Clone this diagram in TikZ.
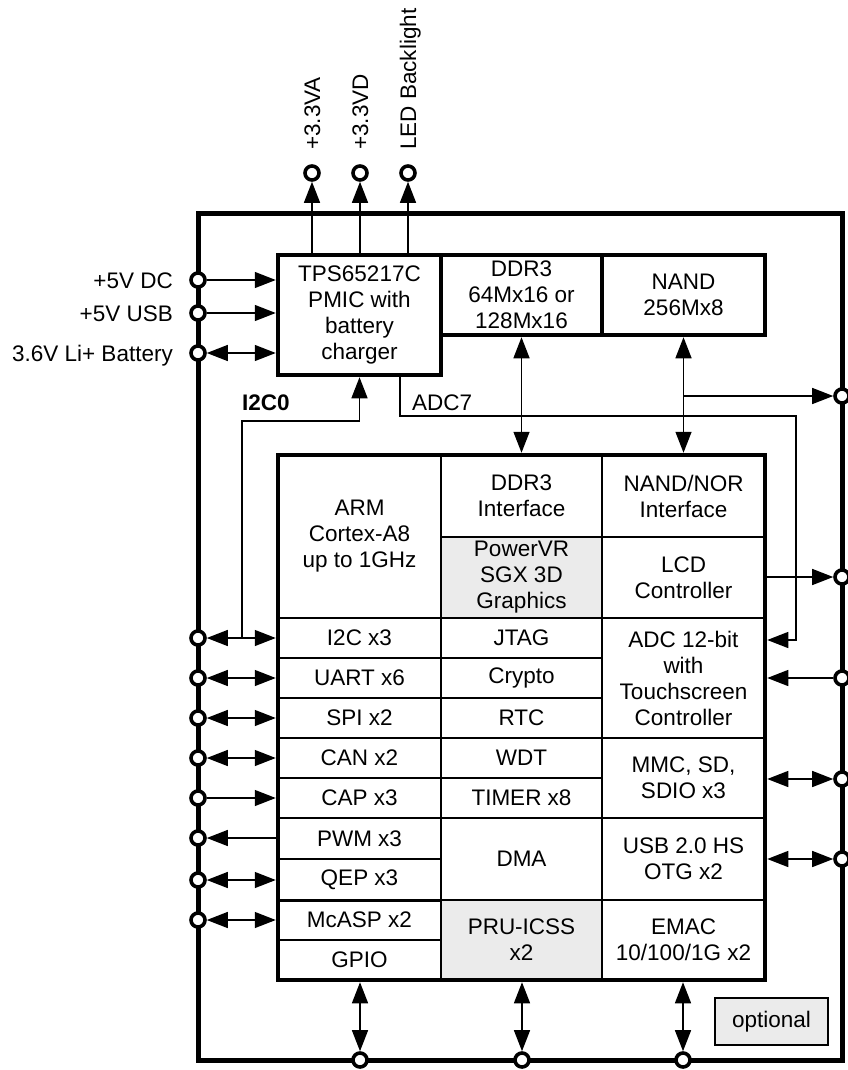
\documentclass[tikz,border=0pt]{standalone}
\usepackage{fontspec}
\setmainfont{Liberation Sans}
\usetikzlibrary{arrows.meta,calc}
\tikzset{tri/.tip={Triangle[length=21pt,width=16pt]}}
\begin{document}
\begin{tikzpicture}[x=1pt,y=-1pt,
  every node/.style={font=\fontsize{22.5}{26}\selectfont, text=black},
  cell/.style={draw, line width=1.5pt, inner sep=0pt, align=center},
  shadecell/.style={cell, fill=black!8},
  chip/.style={draw, line width=4.5pt, inner sep=0pt, align=center},
  board/.style={draw, line width=5pt, inner sep=0pt},
  pinc/.style={circle, draw, line width=3.6pt, fill=white, minimum size=14pt, inner sep=0pt},
  conn/.style={line width=1.4pt},
  uni/.style={conn, -{tri}},
  inv/.style={conn, {tri}-},
  bi/.style={conn, {tri}-{tri}},
  lab/.style={inner sep=0pt}
]
\fill[white] (0,0) rectangle (847,1070);
\useasboundingbox (0,0) rectangle (847,1070);

% board
\node[board, minimum width=644pt, minimum height=847pt] (board) at (520,636.5) {};

% chips on board
\node[chip, minimum width=163pt, minimum height=120pt] (pmic) at (359.5,315) {TPS65217C\\PMIC with\\battery\\charger};
\node[chip, minimum width=161pt, minimum height=80pt] (ddr) at (521.5,295) {DDR3\\64Mx16 or\\128Mx16};
\node[chip, minimum width=163pt, minimum height=80pt] (nand) at (683.5,295) {NAND\\256Mx8};

% SoC cells, column 1
\node[cell, minimum width=163pt, minimum height=163pt] (arm) at (359.5,536.5) {ARM\\Cortex-A8\\up to 1GHz};
\node[cell, minimum width=163pt, minimum height=40pt] (i2c) at (359.5,638) {I2C x3};
\node[cell, minimum width=163pt, minimum height=40pt] (uart) at (359.5,678) {UART x6};
\node[cell, minimum width=163pt, minimum height=40pt] (spi) at (359.5,718) {SPI x2};
\node[cell, minimum width=163pt, minimum height=40pt] (can) at (359.5,758) {CAN x2};
\node[cell, minimum width=163pt, minimum height=40pt] (cap) at (359.5,798) {CAP x3};
\node[cell, minimum width=163pt, minimum height=41pt] (pwm) at (359.5,838.5) {PWM x3};
\node[cell, minimum width=163pt, minimum height=41pt] (qep) at (359.5,879.5) {QEP x3};
\node[cell, minimum width=163pt, minimum height=40pt] (mcasp) at (359.5,920) {McASP x2};
\node[cell, minimum width=163pt, minimum height=40pt] (gpio) at (359.5,960) {GPIO};
\draw[line width=2.8pt] (qep.south west) -- (qep.south east);
% column 2
\node[cell, minimum width=161pt, minimum height=82pt] (ddri) at (521.5,496) {DDR3\\Interface};
\node[shadecell, minimum width=161pt, minimum height=81pt] (pvr) at (521.5,577.5) {PowerVR\\SGX 3D\\Graphics};
\node[cell, minimum width=161pt, minimum height=40pt] (jtag) at (521.5,638) {JTAG};
\node[cell, minimum width=161pt, minimum height=40pt] (crypto) at (521.5,678) {Crypto};
\node[cell, minimum width=161pt, minimum height=40pt] (rtc) at (521.5,718) {RTC};
\node[cell, minimum width=161pt, minimum height=40pt] (wdt) at (521.5,758) {WDT};
\node[cell, minimum width=161pt, minimum height=40pt] (timer) at (521.5,798) {TIMER x8};
\node[cell, minimum width=161pt, minimum height=82pt] (dma) at (521.5,859) {DMA};
\node[shadecell, minimum width=161pt, minimum height=80pt] (pru) at (521.5,940) {PRU-ICSS\\x2};
% column 3
\node[cell, minimum width=163pt, minimum height=82pt] (nandi) at (683.5,496) {NAND/NOR\\Interface};
\node[cell, minimum width=163pt, minimum height=81pt] (lcd) at (683.5,577.5) {LCD\\Controller};
\node[cell, minimum width=163pt, minimum height=120pt] (adc) at (683.5,678) {ADC 12-bit\\with\\Touchscreen\\Controller};
\node[cell, minimum width=163pt, minimum height=80pt] (mmc) at (683.5,778) {MMC, SD,\\SDIO x3};
\node[cell, minimum width=163pt, minimum height=82pt] (usb) at (683.5,859) {USB 2.0 HS\\OTG x2};
\node[cell, minimum width=163pt, minimum height=80pt] (emac) at (683.5,940) {EMAC\\10/100/1G x2};
% SoC outline
\node[chip, minimum width=487pt, minimum height=525pt] (soc) at (521.5,717.5) {};

% optional legend
\node[cell, fill=black!8, line width=1.2pt, minimum width=113pt, minimum height=47pt] (opt) at (771.5,1021.5) {optional};

% pins
\foreach \n/\y in {pDC/280, pUSB/313, pBat/353, pI2C/638, pUART/678, pSPI/718, pCAN/758, pCAP/798, pPWM/838, pQEP/880, pMc/920}
  \node[pinc] (\n) at (198,\y) {};
\foreach \n/\y in {pR1/396, pLCD/577, pADC/678, pMMC/779, pUSBr/859}
  \node[pinc] (\n) at (842,\y) {};
\foreach \n/\x in {pB1/360, pB2/522, pB3/683}
  \node[pinc] (\n) at (\x,1060) {};
\foreach \n/\x in {pA/312, pD/360, pL/408}
  \node[pinc] (\n) at (\x,173) {};

% connectors: PMIC inputs
\draw[uni] (pDC) -- (pDC -| pmic.west);
\draw[uni] (pUSB) -- (pUSB -| pmic.west);
\draw[bi] (pBat) -- (pBat -| pmic.west);
% PMIC outputs
\foreach \n in {pA,pD,pL}
  \draw[uni] (\n |- pmic.north) -- (\n);
% left peripherals
\foreach \n in {pI2C,pUART,pSPI,pCAN,pQEP,pMc}
  \draw[bi] (\n) -- (\n -| soc.west);
\draw[uni] (pCAP) -- (pCAP -| soc.west);
\draw[inv] (pPWM) -- (pPWM -| soc.west);
% memories
\draw[bi] (ddr.south) -- (ddr.south |- soc.north);
\draw[bi] (nand.south) -- (nand.south |- soc.north);
\draw[uni] (nand.south |- pR1) -- (pR1);
% right peripherals
\draw[uni] (pLCD -| soc.east) -- (pLCD);
\draw[inv] (pADC -| soc.east) -- (pADC);
\draw[bi] (pMMC -| soc.east) -- (pMMC);
\draw[bi] (pUSBr -| soc.east) -- (pUSBr);
% bottom
\foreach \n in {pB1,pB2,pB3}
  \draw[bi] (\n |- soc.south) -- (\n);
% I2C0
\coordinate (j1) at (242,638);
\coordinate (k1) at (242,421);
\draw[uni] (j1) -- (k1) -| (pmic.south);
% ADC7
\coordinate (a0) at ([xshift=40.5pt]pmic.south);
\coordinate (a1) at (796,416);
\coordinate (adcin) at ([yshift=38pt]adc.east);
\draw[uni] (a0) |- (a1) |- (adcin -| soc.east);

% labels
\node[lab, anchor=base east] (tDC) at (173,288) {+5V DC};
\node[lab, anchor=base east] (tUSB) at (173,321) {+5V USB};
\node[lab, anchor=base east] (tBat) at (173,361) {3.6V Li+ Battery};
\node[lab, anchor=base west, font=\fontsize{22.5}{26}\selectfont\bfseries] (tI2C0) at (242,410) {I2C0};
\node[lab, anchor=base west] (tADC7) at (412,410) {ADC7};
\node[lab, rotate=90, anchor=base west] (tA) at (320,150) {+3.3VA};
\node[lab, rotate=90, anchor=base west] (tD) at (368,150) {+3.3VD};
\node[lab, rotate=90, anchor=base west] (tL) at (416,150) {LED Backlight};
\end{tikzpicture}
\end{document}
